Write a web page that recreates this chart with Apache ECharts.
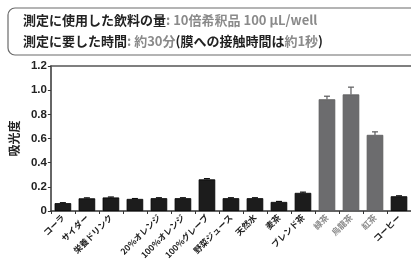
<!DOCTYPE html>
<html>
<head>
<meta charset="utf-8">
<script src="https://cdn.jsdelivr.net/npm/echarts@6/dist/echarts.min.js"></script>
<style>
html,body{margin:0;padding:0;background:#fff;}
#c{width:411px;height:262px;}
</style>
</head>
<body>
<div id="c"></div>
<script>
var categories = ['コーラ','サイダー','栄養ドリンク','','20%オレンジ','100%オレンジ','100%グレープ','野菜ジュース','天然水','麦茶','ブレンド茶','緑茶','烏龍茶','紅茶','コーヒー'];
var values = [0.065, 0.105, 0.112, 0.100, 0.106, 0.106, 0.262, 0.106, 0.106, 0.075, 0.150, 0.925, 0.965, 0.630, 0.122];
var errors = [0.004, 0.004, 0.004, 0.003, 0.004, 0.004, 0.006, 0.004, 0.004, 0.004, 0.006, 0.025, 0.060, 0.025, 0.004];
var highlighted = ['緑茶','烏龍茶','紅茶'];
var yTicks = [0, 0.2, 0.4, 0.6, 0.8, 1.0, 1.2];

var FONT = '"Noto Sans CJK JP", "Noto Sans", sans-serif';
function isHi(i){ return highlighted.indexOf(categories[i]) >= 0; }

var chart = echarts.init(document.getElementById('c'), null, {renderer:'canvas'});
var barData = values.map(function(v,i){
  return {value:v, itemStyle: isHi(i) ? {color:'#6c6c6e', borderColor:'#5a5a5c', borderWidth:0.8} : {color:'#1c1c1c', borderColor:'#000', borderWidth:0.8}};
});
var errData = values.map(function(v,i){ return [i, v, v + errors[i]]; });

chart.setOption({
  animation:false,
  grid:{left:43, right:0, top:66, bottom:51, containLabel:false},
  graphic:[
    {type:'rect', shape:{x:8, y:8, width:420, height:47, r:7}, style:{fill:'none', stroke:'#6a6a6a', lineWidth:1.2}},
    {type:'text', left:23, top:14, style:{
      text:'{b|測定に使用した飲料の量}{g|: 10倍希釈品 100 μL/well}',
      rich:{
        b:{fontFamily:FONT, fontSize:13, fontWeight:'bold', fill:'#222'},
        g:{fontFamily:FONT, fontSize:13, fontWeight:'bold', fill:'#8a8a8a'}
      }}},
    {type:'text', left:23, top:35, style:{
      text:'{b|測定に要した時間}{g|: 約30分}{b|(膜への接触時間は}{g|約1秒}{b|)}',
      rich:{
        b:{fontFamily:FONT, fontSize:13, fontWeight:'bold', fill:'#222'},
        g:{fontFamily:FONT, fontSize:13, fontWeight:'bold', fill:'#8a8a8a'}
      }}}
  ],
  xAxis:[{
    type:'category', data:categories, position:'bottom',
    axisLine:{lineStyle:{color:'#333', width:1.5}},
    axisTick:{show:true, length:3, lineStyle:{color:'#333', width:1}},
    axisLabel:{interval:0, rotate:45, margin:5, fontSize:8.5, fontWeight:'bold', fontFamily:FONT,
      color:function(val, idx){ return highlighted.indexOf(val) >= 0 ? '#8a8a8a' : '#222'; }}
  },{
    type:'category', data:categories, position:'top',
    axisLine:{show:true, lineStyle:{color:'#555', width:1.5}},
    axisTick:{show:false}, axisLabel:{show:false}
  }],
  yAxis:{
    type:'value', min:0, max:1.2, interval:0.2,
    name:'吸光度', nameLocation:'middle', nameGap:25, nameRotate:90,
    nameTextStyle:{fontFamily:FONT, fontSize:12, fontWeight:'bold', color:'#222'},
    axisLine:{show:true, lineStyle:{color:'#333', width:1.5}},
    axisTick:{show:true, length:3, lineStyle:{color:'#333', width:1}},
    splitLine:{show:false},
    axisLabel:{margin:4, fontSize:11.5, fontWeight:'bold', fontFamily:'"Liberation Sans", Arial, sans-serif', color:'#222',
      formatter:function(v){ return v === 0 ? '0' : v.toFixed(1); }}
  },
  series:[{
    type:'bar', data:barData, barWidth:'69%', xAxisIndex:0
  },{
    type:'custom', xAxisIndex:0, data:errData, z:1,
    renderItem:function(params, api){
      var i = api.value(0);
      var top = api.coord([i, api.value(2)]);
      var base = api.coord([i, api.value(1)]);
      var col = isHi(i) ? '#5a5a5c' : '#111';
      var hw = 3;
      return {type:'group', children:[
        {type:'line', shape:{x1:top[0], y1:top[1], x2:base[0], y2:base[1]}, style:{stroke:col, lineWidth:1.2}},
        {type:'line', shape:{x1:top[0]-hw, y1:top[1], x2:top[0]+hw, y2:top[1]}, style:{stroke:col, lineWidth:1.2}}
      ]};
    }
  }]
});
</script>
</body>
</html>
